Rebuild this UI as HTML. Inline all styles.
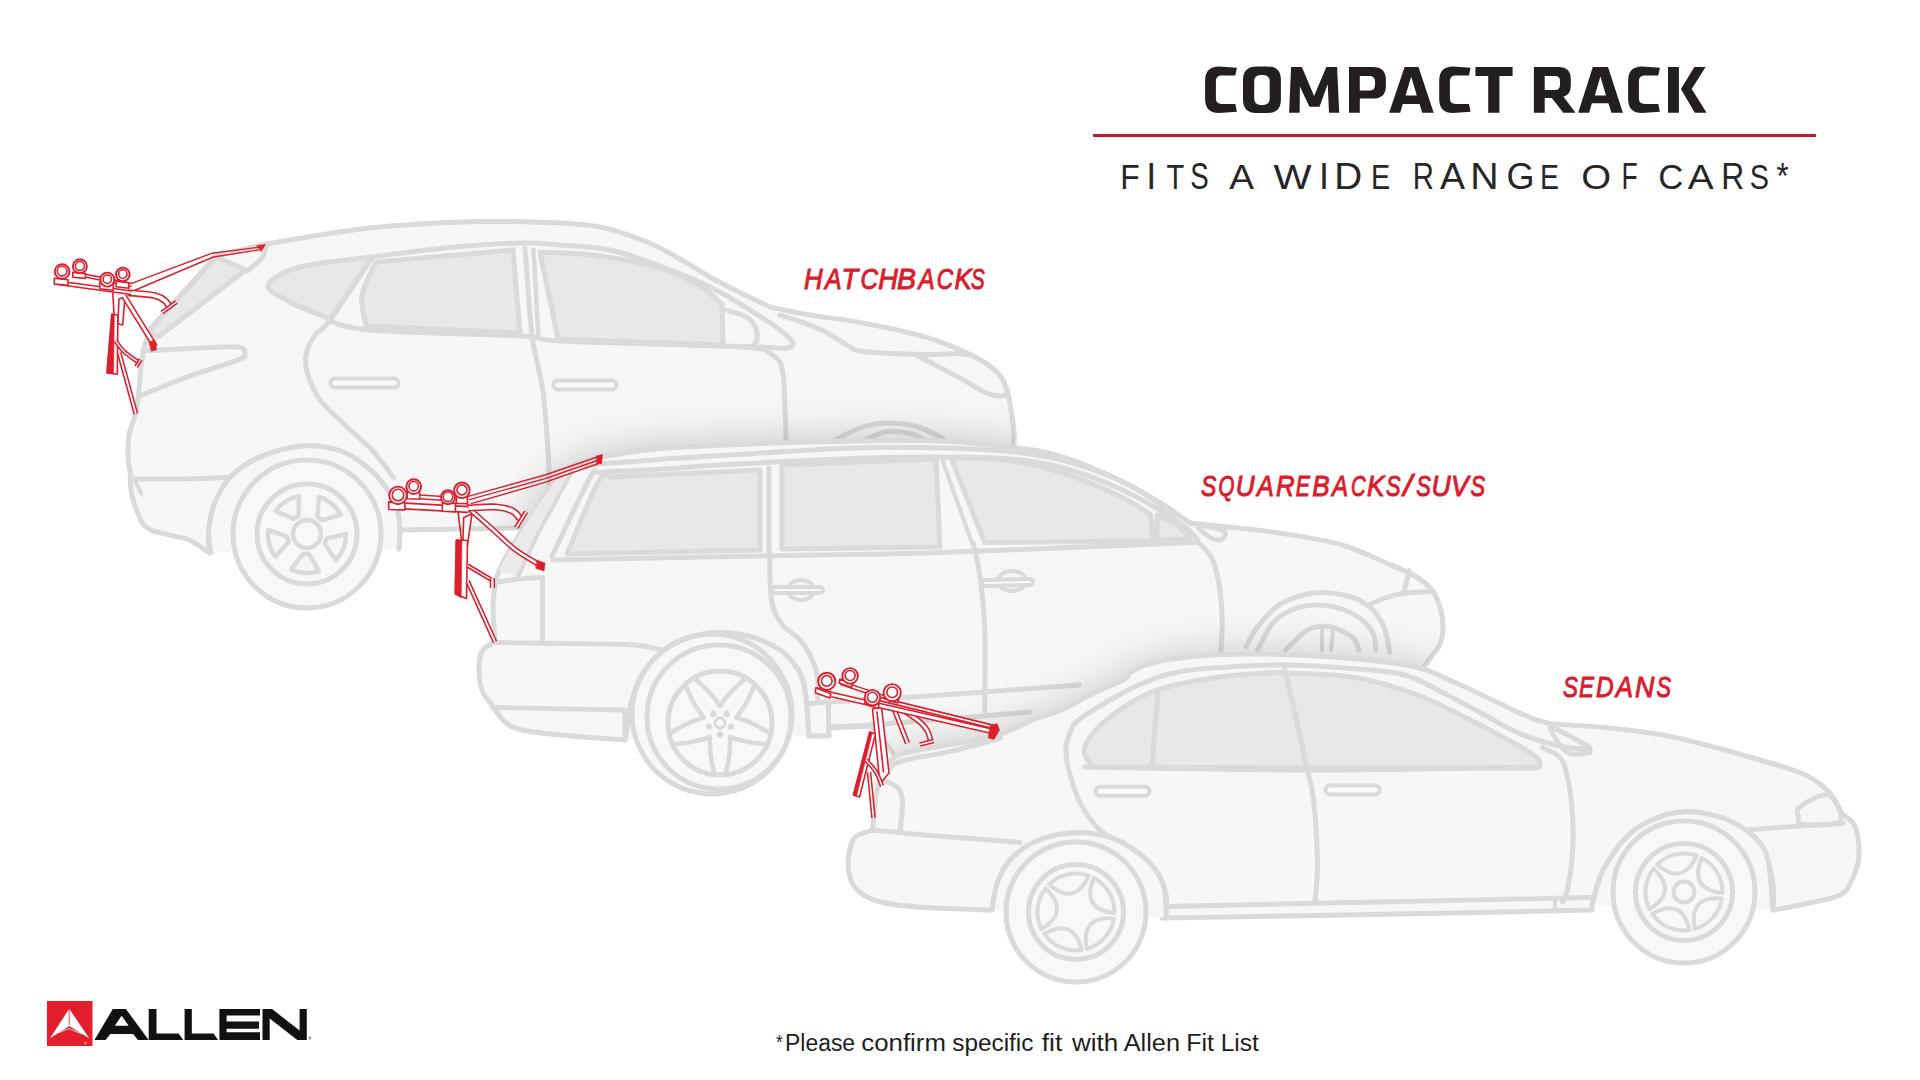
<!DOCTYPE html>
<html><head><meta charset="utf-8"><title>Compact Rack</title>
<style>
html,body{margin:0;padding:0;background:#fff;width:1920px;height:1080px;overflow:hidden}
svg{display:block;position:absolute;left:0;top:0}
text{font-family:"Liberation Sans",sans-serif}
</style></head><body>
<svg width="1920" height="1080" viewBox="0 0 1920 1080">
<defs>
</defs>
<!-- CARS -->
<g id="cars" stroke-linejoin="round" stroke-linecap="round">
<path d="M266.0 244.0 C275.0 242.5 302.7 237.7 320.0 235.0 C337.3 232.3 353.3 229.8 370.0 228.0 C386.7 226.2 401.3 225.1 420.0 224.0 C438.7 222.9 461.2 221.8 482.0 221.5 C502.8 221.2 525.3 221.6 545.0 222.5 C564.7 223.4 583.0 223.8 600.0 227.0 C617.0 230.2 633.7 236.7 647.0 242.0 C660.3 247.3 669.5 253.2 680.0 259.0 C690.5 264.8 700.0 271.4 710.0 277.0 C720.0 282.6 730.0 287.5 740.0 292.5 C750.0 297.5 765.0 304.6 770.0 307.0 C776.7 308.3 794.5 312.3 810.0 315.0 C825.5 317.7 843.7 319.3 863.0 323.0 C882.3 326.7 907.6 331.7 926.0 337.2 C944.4 342.7 961.4 350.3 973.2 356.1 C985.0 361.9 991.3 366.6 996.8 371.9 C1002.3 377.1 1003.8 381.3 1006.2 387.6 C1008.6 393.9 1009.7 402.2 1011.0 409.6 C1012.3 417.0 1013.5 425.3 1014.0 431.7 C1014.5 438.1 1014.2 439.9 1014.0 448.0 C1013.8 456.1 1013.2 474.7 1013.0 480.0 C1010.8 486.7 1002.2 513.3 1000.0 520.0 C900.0 521.7 500.0 528.3 400.0 530.0 C399.8 533.2 399.1 549.2 399.0 549.0 C398.9 548.8 400.0 535.2 399.7 528.5 C399.4 521.8 399.2 515.8 397.0 509.0 C394.8 502.2 391.5 495.0 386.5 488.0 C381.5 481.0 374.6 473.2 367.0 467.0 C359.4 460.8 350.9 454.5 340.7 451.0 C330.5 447.5 318.8 444.9 305.6 445.8 C292.4 446.7 273.9 451.4 261.6 456.4 C249.3 461.4 239.3 468.4 231.7 475.7 C224.1 483.0 219.6 491.6 215.8 500.4 C212.0 509.2 209.9 519.7 208.8 528.5 C207.8 537.3 209.4 548.9 209.5 553.0 C206.3 550.9 197.0 543.4 190.5 540.4 C184.0 537.4 177.1 536.9 170.4 535.1 C163.7 533.3 155.3 532.2 150.4 529.7 C145.5 527.2 144.2 526.3 141.0 520.3 C137.8 514.2 133.3 501.2 131.5 493.4 C129.7 485.6 130.8 479.7 130.2 473.3 C129.6 466.9 128.2 461.4 128.0 455.0 C127.8 448.6 127.7 442.2 129.0 435.0 C130.3 427.8 134.3 419.5 136.0 412.0 C137.7 404.5 138.2 397.7 139.0 390.0 C139.8 382.3 140.0 373.5 141.0 366.0 C142.0 358.5 143.3 351.3 145.0 345.0 C146.7 338.7 150.0 330.8 151.0 328.0 C161.8 316.0 205.2 268.0 216.0 256.0 C224.3 254.0 257.7 246.0 266.0 244.0Z" fill="#f7f7f7" stroke="#dadada" stroke-width="5" />
<path d="M216.0 257.0 L246.0 270.0 L158.0 337.0 L149.0 331.0Z" fill="#e8e8e8" stroke="#dadada" stroke-width="5"/>
<path d="M266.0 246.0 C265.3 248.0 265.2 253.8 262.0 258.0 C258.8 262.2 249.5 268.8 247.0 271.0" fill="none" stroke="#dadada" stroke-width="5"/>
<path d="M143.0 351.0 C152.5 350.5 184.2 348.7 200.0 348.0 C215.8 347.3 230.5 346.2 238.0 347.0 C245.5 347.8 245.0 350.8 245.0 353.0 C245.0 355.2 247.2 356.2 238.0 360.0 C228.8 363.8 206.0 370.2 190.0 376.0 C174.0 381.8 150.0 391.8 142.0 395.0" fill="none" stroke="#dadada" stroke-width="5"/>
<path d="M131.0 479.0 C139.2 479.0 164.2 479.2 180.0 479.0 C195.8 478.8 217.3 478.0 226.0 477.5 C234.7 477.0 231.0 476.2 232.0 476.0" fill="none" stroke="#dadada" stroke-width="5"/>
<path d="M211.0 542.6 L232.0 542.6" fill="none" stroke="#dadada" stroke-width="5"/>
<path d="M134.5 480.0 L141.5 494.0" fill="none" stroke="#dadada" stroke-width="4"/>
<path d="M268.0 285.0 C269.7 279.2 282.7 271.7 300.0 267.0 C317.3 262.3 360.0 258.7 372.0 257.0 C365.0 267.3 337.0 308.7 330.0 319.0 C323.3 316.2 300.3 307.7 290.0 302.0 C279.7 296.3 266.3 290.8 268.0 285.0Z" fill="#e8e8e8" stroke="#dadada" stroke-width="5"/>
<path d="M376.0 262.0 C398.8 260.0 490.2 252.0 513.0 250.0 C514.2 263.8 518.8 319.2 520.0 333.0 C494.3 331.8 391.7 327.2 366.0 326.0 C365.3 320.8 360.3 305.7 362.0 295.0 C363.7 284.3 373.7 267.5 376.0 262.0Z" fill="#e8e8e8" stroke="#dadada" stroke-width="5"/>
<path d="M540.0 252.0 C550.0 252.7 580.0 253.3 600.0 256.0 C620.0 258.7 643.3 263.0 660.0 268.0 C676.7 273.0 689.7 280.0 700.0 286.0 C710.3 292.0 718.3 301.0 722.0 304.0 C722.2 310.8 722.8 338.2 723.0 345.0 C695.5 344.0 585.5 340.0 558.0 339.0 C555.0 324.5 543.0 266.5 540.0 252.0Z" fill="#e8e8e8" stroke="#dadada" stroke-width="5"/>
<path d="M726.0 310.0 C729.7 311.3 742.8 314.2 748.0 318.0 C753.2 321.8 756.3 328.3 757.0 333.0 C757.7 337.7 757.2 343.8 752.0 346.0 C746.8 348.2 730.3 346.0 726.0 346.0" fill="none" stroke="#dadada" stroke-width="5"/>
<path d="M372.0 257.0 C384.2 255.5 420.3 250.3 445.0 248.0 C469.7 245.7 500.8 243.5 520.0 243.0 C539.2 242.5 545.0 243.8 560.0 245.0 C575.0 246.2 593.3 246.5 610.0 250.0 C626.7 253.5 643.3 259.8 660.0 266.0 C676.7 272.2 695.0 279.7 710.0 287.0 C725.0 294.3 738.3 302.8 750.0 310.0 C761.7 317.2 772.8 324.5 780.0 330.0 C787.2 335.5 792.0 340.0 793.0 343.0 C794.0 346.0 791.5 347.3 786.0 348.0 C780.5 348.7 764.3 347.2 760.0 347.0" fill="none" stroke="#dadada" stroke-width="5"/>
<path d="M330.0 321.0 C336.7 322.5 338.3 327.5 370.0 330.0 C401.7 332.5 488.3 334.2 520.0 336.0 C551.7 337.8 526.3 339.3 560.0 341.0 C593.7 342.7 687.8 344.7 722.0 346.0 C756.2 347.3 757.8 348.5 765.0 349.0" fill="none" stroke="#dadada" stroke-width="5"/>
<path d="M372.0 258.0 C365.0 268.3 339.5 307.2 330.0 320.0 C320.5 332.8 319.0 329.2 315.0 335.0 C311.0 340.8 307.2 348.3 306.0 355.0 C304.8 361.7 305.7 367.5 308.0 375.0 C310.3 382.5 313.8 391.7 320.0 400.0 C326.2 408.3 336.3 416.7 345.0 425.0 C353.7 433.3 363.8 441.2 372.0 450.0 C380.2 458.8 390.3 473.3 394.0 478.0" fill="none" stroke="#dadada" stroke-width="5"/>
<path d="M525.0 248.0 C526.2 262.5 529.3 313.0 532.0 335.0 C534.7 357.0 538.8 367.5 541.0 380.0 C543.2 392.5 543.7 395.0 545.0 410.0 C546.3 425.0 548.2 450.8 549.0 470.0 C549.8 489.2 549.8 515.8 550.0 525.0" fill="none" stroke="#dadada" stroke-width="5"/>
<path d="M533.5 250.0 L538.5 338.0" fill="none" stroke="#dadada" stroke-width="4.5"/>
<path d="M765.0 350.0 C767.5 352.0 776.8 356.2 780.0 362.0 C783.2 367.8 783.2 377.0 784.0 385.0 C784.8 393.0 784.7 400.8 785.0 410.0 C785.3 419.2 785.8 425.0 786.0 440.0 C786.2 455.0 786.0 490.0 786.0 500.0" fill="none" stroke="#dadada" stroke-width="5"/>
<path d="M780.0 315.0 C783.3 316.1 792.7 318.8 800.0 321.5 C807.3 324.2 815.7 327.1 823.6 331.0 C831.5 334.9 840.6 341.7 847.2 345.1 C853.8 348.5 849.9 349.8 863.0 351.4 C876.1 353.0 910.3 354.1 926.0 354.5 C941.7 354.9 949.6 353.2 957.4 353.5 C965.2 353.8 970.4 355.6 973.0 356.0" fill="none" stroke="#dadada" stroke-width="5"/>
<path d="M918.0 356.0 C924.6 359.4 945.6 370.3 957.4 376.6 C969.2 382.9 981.0 390.8 988.9 393.9 C996.8 397.0 1001.7 396.0 1004.7 395.5 C1007.7 395.0 1006.6 391.8 1007.0 391.0" fill="none" stroke="#dadada" stroke-width="5"/>
<path d="M835.0 440.0 C839.2 438.0 851.7 430.8 860.0 428.0 C868.3 425.2 875.8 423.3 885.0 423.0 C894.2 422.7 905.3 423.5 915.0 426.0 C924.7 428.5 938.3 436.0 943.0 438.0" fill="none" stroke="#dadada" stroke-width="5"/>
<path d="M855.0 445.0 C860.0 442.8 875.5 433.8 885.0 432.0 C894.5 430.2 904.2 431.8 912.0 434.0 C919.8 436.2 928.7 443.2 932.0 445.0" fill="none" stroke="#dadada" stroke-width="5"/>
<path d="M335.0 383.0 L394.0 383.0" stroke="#dadada" stroke-width="13" fill="none"/>
<path d="M335.0 383.0 L394.0 383.0" stroke="#fafafa" stroke-width="5" fill="none"/>
<path d="M558.0 385.0 L612.0 385.0" stroke="#dadada" stroke-width="13" fill="none"/>
<path d="M558.0 385.0 L612.0 385.0" stroke="#fafafa" stroke-width="5" fill="none"/>
<path d="M210.6 553.0 C210.3 548.9 207.9 537.3 208.8 528.5 C209.7 519.7 212.0 509.2 215.8 500.4 C219.6 491.6 224.1 483.0 231.7 475.7 C239.3 468.4 249.3 461.4 261.6 456.4 C273.9 451.4 292.4 446.7 305.6 445.8 C318.8 444.9 330.5 447.5 340.7 451.0 C350.9 454.5 359.4 460.8 367.0 467.0 C374.6 473.2 381.5 481.0 386.5 488.0 C391.5 495.0 394.8 502.2 397.0 509.0 C399.2 515.8 399.4 521.8 399.7 528.5 C400.0 535.2 399.1 545.6 399.0 549.0 C367.6 549.7 242.0 552.3 210.6 553.0Z" fill="#f7f7f7"/>
<circle cx="307.0" cy="534.0" r="74.0" fill="#f8f8f8" stroke="#dadada" stroke-width="5"/>
<circle cx="307.0" cy="534.0" r="50.0" fill="#f8f8f8" stroke="#dadada" stroke-width="5"/>
<circle cx="307.0" cy="534.0" r="14.0" fill="none" stroke="#dadada" stroke-width="4.5"/>
<path d="M308.9 554.1 L319.1 571.1 A39.0 39.0 0 0 1 291.1 569.6 L303.0 553.8 Z" fill="#f7f7f7" stroke="#dadada" stroke-width="4.5" stroke-linejoin="round"/>
<path d="M288.5 542.1 L275.4 556.9 A39.0 39.0 0 0 1 268.2 529.9 L286.9 536.3 Z" fill="#f7f7f7" stroke="#dadada" stroke-width="4.5" stroke-linejoin="round"/>
<path d="M293.6 518.9 L275.4 511.1 A39.0 39.0 0 0 1 298.9 495.9 L298.6 515.6 Z" fill="#f7f7f7" stroke="#dadada" stroke-width="4.5" stroke-linejoin="round"/>
<path d="M317.3 516.6 L319.1 496.9 A39.0 39.0 0 0 1 340.8 514.5 L321.9 520.3 Z" fill="#f7f7f7" stroke="#dadada" stroke-width="4.5" stroke-linejoin="round"/>
<path d="M326.7 538.4 L346.0 534.0 A39.0 39.0 0 0 1 336.0 560.1 L324.6 544.0 Z" fill="#f7f7f7" stroke="#dadada" stroke-width="4.5" stroke-linejoin="round"/>
<path d="M210.6 553.0 C210.3 548.9 207.9 537.3 208.8 528.5 C209.7 519.7 212.0 509.2 215.8 500.4 C219.6 491.6 224.1 483.0 231.7 475.7 C239.3 468.4 249.3 461.4 261.6 456.4 C273.9 451.4 292.4 446.7 305.6 445.8 C318.8 444.9 330.5 447.5 340.7 451.0 C350.9 454.5 359.4 460.8 367.0 467.0 C374.6 473.2 381.5 481.0 386.5 488.0 C391.5 495.0 394.8 502.2 397.0 509.0 C399.2 515.8 399.4 521.8 399.7 528.5 C400.0 535.2 399.1 545.6 399.0 549.0" fill="none" stroke="#dadada" stroke-width="5"/>
<clipPath id="clipa"><path d="M266.0 244.0 C275.0 242.5 302.7 237.7 320.0 235.0 C337.3 232.3 353.3 229.8 370.0 228.0 C386.7 226.2 401.3 225.1 420.0 224.0 C438.7 222.9 461.2 221.8 482.0 221.5 C502.8 221.2 525.3 221.6 545.0 222.5 C564.7 223.4 583.0 223.8 600.0 227.0 C617.0 230.2 633.7 236.7 647.0 242.0 C660.3 247.3 669.5 253.2 680.0 259.0 C690.5 264.8 700.0 271.4 710.0 277.0 C720.0 282.6 730.0 287.5 740.0 292.5 C750.0 297.5 765.0 304.6 770.0 307.0 C776.7 308.3 794.5 312.3 810.0 315.0 C825.5 317.7 843.7 319.3 863.0 323.0 C882.3 326.7 907.6 331.7 926.0 337.2 C944.4 342.7 961.4 350.3 973.2 356.1 C985.0 361.9 991.3 366.6 996.8 371.9 C1002.3 377.1 1003.8 381.3 1006.2 387.6 C1008.6 393.9 1009.7 402.2 1011.0 409.6 C1012.3 417.0 1013.5 425.3 1014.0 431.7 C1014.5 438.1 1014.2 439.9 1014.0 448.0 C1013.8 456.1 1013.2 474.7 1013.0 480.0 C1010.8 486.7 1002.2 513.3 1000.0 520.0 C900.0 521.7 500.0 528.3 400.0 530.0 C399.8 533.2 399.1 549.2 399.0 549.0 C398.9 548.8 400.0 535.2 399.7 528.5 C399.4 521.8 399.2 515.8 397.0 509.0 C394.8 502.2 391.5 495.0 386.5 488.0 C381.5 481.0 374.6 473.2 367.0 467.0 C359.4 460.8 350.9 454.5 340.7 451.0 C330.5 447.5 318.8 444.9 305.6 445.8 C292.4 446.7 273.9 451.4 261.6 456.4 C249.3 461.4 239.3 468.4 231.7 475.7 C224.1 483.0 219.6 491.6 215.8 500.4 C212.0 509.2 209.9 519.7 208.8 528.5 C207.8 537.3 209.4 548.9 209.5 553.0 C206.3 550.9 197.0 543.4 190.5 540.4 C184.0 537.4 177.1 536.9 170.4 535.1 C163.7 533.3 155.3 532.2 150.4 529.7 C145.5 527.2 144.2 526.3 141.0 520.3 C137.8 514.2 133.3 501.2 131.5 493.4 C129.7 485.6 130.8 479.7 130.2 473.3 C129.6 466.9 128.2 461.4 128.0 455.0 C127.8 448.6 127.7 442.2 129.0 435.0 C130.3 427.8 134.3 419.5 136.0 412.0 C137.7 404.5 138.2 397.7 139.0 390.0 C139.8 382.3 140.0 373.5 141.0 366.0 C142.0 358.5 143.3 351.3 145.0 345.0 C146.7 338.7 150.0 330.8 151.0 328.0 C161.8 316.0 205.2 268.0 216.0 256.0 C224.3 254.0 257.7 246.0 266.0 244.0Z"/></clipPath>
<filter id="blura" x="-20%" y="-20%" width="140%" height="140%"><feGaussianBlur stdDeviation="22"/></filter>
<g clip-path="url(#clipa)"><path d="M600.0 457.0 C610.0 455.6 633.3 450.8 660.0 448.5 C686.7 446.2 726.7 444.8 760.0 443.5 C793.3 442.2 830.0 441.4 860.0 441.0 C890.0 440.6 916.0 440.1 940.0 441.0 C964.0 441.9 986.3 444.6 1004.0 446.5 C1021.7 448.4 1031.8 449.2 1046.0 452.5 C1060.2 455.8 1074.8 460.9 1089.0 466.5 C1103.2 472.1 1118.0 479.0 1131.0 486.0 C1144.0 493.0 1157.2 502.3 1167.0 508.5 C1176.8 514.7 1186.2 520.6 1190.0 523.0 C1196.5 523.7 1213.0 525.2 1229.0 527.0 C1245.0 528.8 1267.2 531.0 1286.0 534.0 C1304.8 537.0 1325.7 540.3 1342.0 545.0 C1358.3 549.7 1371.8 556.8 1384.0 562.0 C1396.2 567.2 1407.0 571.3 1415.0 576.0 C1423.0 580.7 1427.8 584.8 1432.0 590.0 C1436.2 595.2 1438.2 600.8 1440.0 607.0 C1441.8 613.2 1443.0 620.8 1443.0 627.0 C1443.0 633.2 1442.3 638.5 1440.0 644.0 C1437.7 649.5 1435.7 650.7 1429.0 660.0 C1422.3 669.3 1404.8 693.3 1400.0 700.0 C1350.0 710.8 1150.0 754.2 1100.0 765.0 C1066.7 765.0 933.3 765.0 900.0 765.0 C897.5 761.2 889.8 748.5 885.0 742.0 C880.2 735.5 873.3 728.7 871.0 726.0 C864.0 726.3 836.0 727.7 829.0 728.0 C829.0 729.3 829.0 734.7 829.0 736.0 C825.7 736.0 812.3 736.0 809.0 736.0 C808.6 730.7 807.3 712.5 806.5 704.0 C805.7 695.5 805.6 691.0 804.0 685.0 C802.4 679.0 801.0 673.8 797.0 668.0 C793.0 662.2 788.2 655.3 780.0 650.0 C771.8 644.7 759.7 638.8 748.0 636.0 C736.3 633.2 722.7 631.5 710.0 633.0 C697.3 634.5 682.8 638.8 672.0 645.0 C661.2 651.2 651.7 660.8 645.0 670.0 C638.3 679.2 635.3 688.3 632.0 700.0 C628.7 711.7 626.2 733.3 625.0 740.0 C614.2 739.2 577.2 736.7 560.0 735.0 C542.8 733.3 531.2 732.2 522.0 730.0 C512.8 727.8 510.0 726.2 505.0 722.0 C500.0 717.8 495.8 710.3 492.0 705.0 C488.2 699.7 484.2 696.7 482.0 690.0 C479.8 683.3 478.8 671.7 479.0 665.0 C479.2 658.3 480.3 653.8 483.0 650.0 C485.7 646.2 493.0 643.3 495.0 642.0 C494.7 635.8 492.8 615.3 493.0 605.0 C493.2 594.7 495.5 584.2 496.0 580.0 C496.5 578.5 497.5 574.5 499.0 571.0 C500.5 567.5 501.4 565.1 505.0 558.7 C508.6 552.3 515.0 541.4 520.4 532.7 C525.8 524.1 530.9 516.1 537.2 506.8 C543.5 497.5 551.2 484.3 558.0 477.0 C564.8 469.7 571.0 466.3 578.0 463.0 C585.0 459.7 596.3 458.0 600.0 457.0Z" fill="#000" opacity="0.2" filter="url(#blura)" transform="translate(0 -2)"/></g>
<path d="M600.0 457.0 C610.0 455.6 633.3 450.8 660.0 448.5 C686.7 446.2 726.7 444.8 760.0 443.5 C793.3 442.2 830.0 441.4 860.0 441.0 C890.0 440.6 916.0 440.1 940.0 441.0 C964.0 441.9 986.3 444.6 1004.0 446.5 C1021.7 448.4 1031.8 449.2 1046.0 452.5 C1060.2 455.8 1074.8 460.9 1089.0 466.5 C1103.2 472.1 1118.0 479.0 1131.0 486.0 C1144.0 493.0 1157.2 502.3 1167.0 508.5 C1176.8 514.7 1186.2 520.6 1190.0 523.0 C1196.5 523.7 1213.0 525.2 1229.0 527.0 C1245.0 528.8 1267.2 531.0 1286.0 534.0 C1304.8 537.0 1325.7 540.3 1342.0 545.0 C1358.3 549.7 1371.8 556.8 1384.0 562.0 C1396.2 567.2 1407.0 571.3 1415.0 576.0 C1423.0 580.7 1427.8 584.8 1432.0 590.0 C1436.2 595.2 1438.2 600.8 1440.0 607.0 C1441.8 613.2 1443.0 620.8 1443.0 627.0 C1443.0 633.2 1442.3 638.5 1440.0 644.0 C1437.7 649.5 1435.7 650.7 1429.0 660.0 C1422.3 669.3 1404.8 693.3 1400.0 700.0 C1350.0 710.8 1150.0 754.2 1100.0 765.0 C1066.7 765.0 933.3 765.0 900.0 765.0 C897.5 761.2 889.8 748.5 885.0 742.0 C880.2 735.5 873.3 728.7 871.0 726.0 C864.0 726.3 836.0 727.7 829.0 728.0 C829.0 729.3 829.0 734.7 829.0 736.0 C825.7 736.0 812.3 736.0 809.0 736.0 C808.6 730.7 807.3 712.5 806.5 704.0 C805.7 695.5 805.6 691.0 804.0 685.0 C802.4 679.0 801.0 673.8 797.0 668.0 C793.0 662.2 788.2 655.3 780.0 650.0 C771.8 644.7 759.7 638.8 748.0 636.0 C736.3 633.2 722.7 631.5 710.0 633.0 C697.3 634.5 682.8 638.8 672.0 645.0 C661.2 651.2 651.7 660.8 645.0 670.0 C638.3 679.2 635.3 688.3 632.0 700.0 C628.7 711.7 626.2 733.3 625.0 740.0 C614.2 739.2 577.2 736.7 560.0 735.0 C542.8 733.3 531.2 732.2 522.0 730.0 C512.8 727.8 510.0 726.2 505.0 722.0 C500.0 717.8 495.8 710.3 492.0 705.0 C488.2 699.7 484.2 696.7 482.0 690.0 C479.8 683.3 478.8 671.7 479.0 665.0 C479.2 658.3 480.3 653.8 483.0 650.0 C485.7 646.2 493.0 643.3 495.0 642.0 C494.7 635.8 492.8 615.3 493.0 605.0 C493.2 594.7 495.5 584.2 496.0 580.0 C496.5 578.5 497.5 574.5 499.0 571.0 C500.5 567.5 501.4 565.1 505.0 558.7 C508.6 552.3 515.0 541.4 520.4 532.7 C525.8 524.1 530.9 516.1 537.2 506.8 C543.5 497.5 551.2 484.3 558.0 477.0 C564.8 469.7 571.0 466.3 578.0 463.0 C585.0 459.7 596.3 458.0 600.0 457.0Z" fill="#f7f7f7" stroke="#dadada" stroke-width="5" />
<path d="M558.0 477.0 L537.2 506.8 L520.4 532.7 L504.8 558.7 L498.4 571.6 L517.8 575.5 L521.7 569.0 L537.2 535.3 L552.8 506.8 L568.3 478.3Z" fill="#ebebeb"/>
<path d="M572.0 472.0 C571.4 473.1 571.5 472.5 568.3 478.3 C565.1 484.1 558.0 497.3 552.8 506.8 C547.6 516.3 542.4 524.9 537.2 535.3 C532.0 545.7 524.9 562.2 521.7 569.0 C518.5 575.8 518.4 574.8 517.8 576.0" fill="none" stroke="#dadada" stroke-width="4"/>
<path d="M497.0 582.0 C500.8 581.5 512.4 579.8 520.0 579.0 C527.6 578.2 538.8 577.8 542.5 577.5 C542.5 582.9 542.5 599.1 542.5 610.0 C542.5 620.9 542.5 637.5 542.5 643.0" fill="none" stroke="#dadada" stroke-width="5"/>
<path d="M567.0 554.0 C572.2 542.0 590.8 494.8 598.0 482.0 C605.2 469.2 608.0 477.8 610.0 477.0 C635.0 475.8 735.0 471.2 760.0 470.0 C760.0 483.3 760.0 536.7 760.0 550.0 C727.8 550.7 599.2 553.3 567.0 554.0Z" fill="#e8e8e8" stroke="#dadada" stroke-width="5"/>
<path d="M782.0 465.0 L936.0 459.0 L940.0 547.0 L782.0 549.0Z" fill="#e8e8e8" stroke="#dadada" stroke-width="5"/>
<path d="M951.0 458.0 C960.0 458.3 986.8 457.7 1005.0 460.0 C1023.2 462.3 1041.3 466.2 1060.0 472.0 C1078.7 477.8 1101.9 487.6 1117.0 494.7 C1132.1 501.8 1145.0 511.1 1150.6 514.4 C1151.1 518.8 1152.9 536.6 1153.4 541.0 C1125.3 541.2 1012.8 542.2 984.7 542.5 C979.1 528.4 956.6 472.1 951.0 458.0Z" fill="#e8e8e8" stroke="#dadada" stroke-width="5"/>
<path d="M1157.0 515.0 C1160.2 516.5 1170.3 520.0 1176.0 524.0 C1181.7 528.0 1188.5 536.5 1191.0 539.0 C1185.3 539.2 1162.7 539.8 1157.0 540.0 C1157.0 535.8 1157.0 519.2 1157.0 515.0Z" fill="#e8e8e8" stroke="#dadada" stroke-width="5"/>
<path d="M578.0 465.5 C588.3 464.8 623.8 462.2 640.0 461.0 C656.2 459.8 661.7 459.2 675.0 458.3 C688.3 457.4 692.5 457.2 720.0 455.6 C747.5 454.0 806.7 449.9 840.0 448.5 C873.3 447.1 892.7 447.1 920.0 447.5 C947.3 447.9 980.7 449.0 1004.0 451.0 C1027.3 453.0 1041.2 454.8 1060.0 459.5 C1078.8 464.2 1100.5 471.9 1117.0 479.0 C1133.5 486.1 1146.8 494.7 1159.0 502.0 C1171.2 509.3 1184.8 519.5 1190.0 523.0" fill="none" stroke="#dadada" stroke-width="5"/>
<path d="M552.0 556.0 C558.3 543.0 582.0 491.9 590.0 478.0 C598.0 464.1 591.7 473.8 600.0 472.5 C608.3 471.2 627.5 471.2 640.0 470.5 C652.5 469.8 661.7 469.2 675.0 468.3 C688.3 467.4 692.5 466.6 720.0 465.0 C747.5 463.4 806.7 460.3 840.0 459.0 C873.3 457.7 892.7 457.1 920.0 457.0 C947.3 456.9 980.7 456.8 1004.0 458.5 C1027.3 460.2 1041.2 462.2 1060.0 467.0 C1078.8 471.8 1100.5 480.4 1117.0 487.5 C1133.5 494.6 1147.3 502.7 1159.0 509.5 C1170.7 516.3 1180.5 523.4 1187.0 528.5 C1193.5 533.6 1196.2 538.1 1198.0 540.0" fill="none" stroke="#dadada" stroke-width="5"/>
<path d="M552.5 560.0 C587.1 559.3 695.4 557.2 760.0 556.0 C824.6 554.8 867.5 554.8 940.0 552.5 C1012.5 550.2 1152.5 544.2 1195.0 542.5" fill="none" stroke="#dadada" stroke-width="5"/>
<path d="M769.0 468.0 L769.0 553.0" fill="none" stroke="#dadada" stroke-width="5"/>
<path d="M942.0 459.0 L972.0 543.0" fill="none" stroke="#dadada" stroke-width="4"/>
<path d="M770.0 552.5 C770.0 557.1 769.6 571.2 770.0 580.0 C770.4 588.8 770.4 597.5 772.5 605.0 C774.6 612.5 777.9 619.2 782.5 625.0 C787.1 630.8 795.0 634.2 800.0 640.0 C805.0 645.8 809.6 653.8 812.5 660.0 C815.4 666.2 816.6 670.8 817.5 677.5 C818.4 684.2 817.9 696.2 818.0 700.0" fill="none" stroke="#dadada" stroke-width="5"/>
<path d="M973.0 542.5 C974.0 547.2 977.0 556.5 979.0 570.6 C981.0 584.7 983.8 603.5 984.7 626.9 C985.7 650.3 984.7 697.0 984.7 711.0" fill="none" stroke="#dadada" stroke-width="5"/>
<path d="M1198.4 542.5 C1200.8 545.3 1209.0 551.9 1212.5 559.4 C1216.0 566.9 1217.9 577.2 1219.5 587.5 C1221.1 597.8 1222.0 610.8 1222.3 621.2 C1222.5 631.7 1221.2 645.2 1221.0 650.0" fill="none" stroke="#dadada" stroke-width="5"/>
<path d="M1198.0 525.6 C1200.3 524.6 1219.9 528.9 1223.8 531.2 C1227.6 533.6 1223.3 538.7 1221.0 539.7 C1218.7 540.7 1213.5 539.4 1209.7 537.0 C1205.9 534.6 1195.7 526.6 1198.0 525.6Z" fill="none" stroke="#dadada" stroke-width="5"/>
<path d="M1409.4 570.6 C1408.5 574.3 1404.7 589.3 1403.8 593.0 C1408.0 592.8 1424.8 591.9 1429.0 591.7" fill="none" stroke="#dadada" stroke-width="5"/>
<path d="M1403.8 593.0 C1400.6 593.8 1390.6 596.1 1385.0 598.0 C1379.4 599.9 1372.5 603.3 1370.0 604.4" fill="none" stroke="#dadada" stroke-width="5"/>
<path d="M1246.0 646.6 C1247.9 643.3 1251.8 633.9 1257.5 626.9 C1263.2 619.9 1270.6 610.0 1280.0 604.4 C1289.4 598.8 1302.5 594.4 1313.8 593.0 C1325.0 591.6 1338.1 593.6 1347.5 596.0 C1356.9 598.4 1363.9 602.1 1370.0 607.2 C1376.1 612.4 1380.7 619.4 1384.0 626.9 C1387.3 634.4 1388.8 648.0 1389.7 652.2" fill="none" stroke="#dadada" stroke-width="5"/>
<path d="M1257.5 650.0 C1260.3 645.2 1267.4 628.4 1274.4 621.2 C1281.4 614.1 1290.8 609.8 1299.7 607.2 C1308.6 604.6 1318.4 604.4 1327.8 605.8 C1337.2 607.2 1348.5 611.1 1356.0 615.6 C1363.5 620.1 1369.5 626.8 1372.8 632.5 C1376.1 638.2 1375.1 647.1 1375.6 650.0" fill="none" stroke="#dadada" stroke-width="5"/>
<path d="M1285.6 650.0 C1289.3 646.6 1300.5 633.6 1308.0 629.7 C1315.5 625.9 1323.1 625.5 1330.6 626.9 C1338.1 628.3 1348.3 634.1 1353.0 638.0 C1357.7 641.9 1357.8 648.0 1358.8 650.0" fill="none" stroke="#dadada" stroke-width="5"/>
<path d="M1322.0 630.0 L1322.0 650.0" fill="none" stroke="#dadada" stroke-width="4"/>
<path d="M1333.0 630.0 L1331.0 650.0" fill="none" stroke="#dadada" stroke-width="4"/>
<path d="M495.0 642.5 C510.0 642.7 561.7 643.3 585.0 643.8 C608.3 644.2 622.1 644.0 635.0 645.0 C647.9 646.0 657.9 649.2 662.5 650.0" fill="none" stroke="#dadada" stroke-width="5"/>
<path d="M492.5 707.5 C503.8 707.7 537.9 708.3 560.0 708.8 C582.1 709.2 614.2 709.8 625.0 710.0" fill="none" stroke="#dadada" stroke-width="5"/>
<path d="M625.0 710.0 L625.0 740.0" fill="none" stroke="#dadada" stroke-width="5"/>
<path d="M806.0 704.0 C810.0 703.7 813.5 703.1 830.0 702.0 C846.5 700.9 878.3 699.2 905.0 697.5 C931.7 695.8 961.0 693.6 990.0 691.5 C1019.0 689.4 1064.2 686.1 1079.0 685.0" fill="none" stroke="#dadada" stroke-width="5"/>
<path d="M828.5 703.0 L828.5 733.0" fill="none" stroke="#dadada" stroke-width="5"/>
<path d="M829.6 727.0 C836.5 726.6 844.5 726.7 871.2 724.8 C898.0 722.9 963.5 717.5 990.0 715.4 C1016.5 713.3 1023.3 712.6 1030.0 712.0" fill="none" stroke="#dadada" stroke-width="5"/>
<ellipse cx="801.0" cy="590.0" rx="13.0" ry="10.0" fill="#f7f7f7" stroke="#dadada" stroke-width="4"/>
<path d="M775.0 590.0 L820.0 590.0" stroke="#dadada" stroke-width="10" fill="none"/>
<path d="M775.0 590.0 L820.0 590.0" stroke="#fafafa" stroke-width="2" fill="none"/>
<ellipse cx="1012.0" cy="581.0" rx="14.0" ry="10.0" fill="#f7f7f7" stroke="#dadada" stroke-width="4"/>
<path d="M985.0 583.0 L1030.0 582.0" stroke="#dadada" stroke-width="10" fill="none"/>
<path d="M985.0 583.0 L1030.0 582.0" stroke="#fafafa" stroke-width="2" fill="none"/>
<path d="M625.0 740.0 C626.2 733.3 628.7 711.7 632.0 700.0 C635.3 688.3 638.3 679.2 645.0 670.0 C651.7 660.8 661.2 651.2 672.0 645.0 C682.8 638.8 697.3 634.5 710.0 633.0 C722.7 631.5 736.3 633.2 748.0 636.0 C759.7 638.8 771.8 644.7 780.0 650.0 C788.2 655.3 793.0 662.2 797.0 668.0 C801.0 673.8 802.4 679.0 804.0 685.0 C805.6 691.0 805.7 695.5 806.5 704.0 C807.3 712.5 808.6 730.7 809.0 736.0 C778.3 736.7 655.7 739.3 625.0 740.0Z" fill="#f7f7f7"/>
<circle cx="712" cy="714" r="80" fill="#f8f8f8" stroke="#dadada" stroke-width="5"/>
<circle cx="719" cy="717" r="72" fill="#f8f8f8" stroke="#dadada" stroke-width="5"/>
<circle cx="720" cy="723" r="52" fill="#f8f8f8" stroke="#dadada" stroke-width="5"/>
<path d="M694.0 678.0 Q710.7 691.6 720.0 706.0 Q729.3 691.6 746.0 678.0" fill="none" stroke="#dadada" stroke-width="4.5"/>
<path d="M754.8 684.4 Q747.0 704.5 736.2 717.7 Q752.7 722.1 770.9 733.8" fill="none" stroke="#dadada" stroke-width="4.5"/>
<path d="M767.5 744.2 Q746.0 742.9 730.0 736.8 Q730.9 753.9 725.4 774.7" fill="none" stroke="#dadada" stroke-width="4.5"/>
<path d="M714.6 774.7 Q709.1 753.9 710.0 736.8 Q694.0 742.9 672.5 744.2" fill="none" stroke="#dadada" stroke-width="4.5"/>
<path d="M669.1 733.8 Q687.3 722.1 703.8 717.7 Q693.0 704.5 685.2 684.4" fill="none" stroke="#dadada" stroke-width="4.5"/>
<circle cx="726.8" cy="713.7" r="3.2" fill="#dadada"/>
<circle cx="730.9" cy="726.6" r="3.2" fill="#dadada"/>
<circle cx="720.0" cy="734.5" r="3.2" fill="#dadada"/>
<circle cx="709.1" cy="726.6" r="3.2" fill="#dadada"/>
<circle cx="713.2" cy="713.7" r="3.2" fill="#dadada"/>
<circle cx="720" cy="723" r="5" fill="none" stroke="#dadada" stroke-width="3"/>
<path d="M625.0 740.0 C626.2 733.3 628.7 711.7 632.0 700.0 C635.3 688.3 638.3 679.2 645.0 670.0 C651.7 660.8 661.2 651.2 672.0 645.0 C682.8 638.8 697.3 634.5 710.0 633.0 C722.7 631.5 736.3 633.2 748.0 636.0 C759.7 638.8 771.8 644.7 780.0 650.0 C788.2 655.3 793.0 662.2 797.0 668.0 C801.0 673.8 802.4 679.0 804.0 685.0 C805.6 691.0 805.7 695.5 806.5 704.0 C807.3 712.5 808.6 730.7 809.0 736.0" fill="none" stroke="#dadada" stroke-width="5"/>
<clipPath id="clipb"><path d="M600.0 457.0 C610.0 455.6 633.3 450.8 660.0 448.5 C686.7 446.2 726.7 444.8 760.0 443.5 C793.3 442.2 830.0 441.4 860.0 441.0 C890.0 440.6 916.0 440.1 940.0 441.0 C964.0 441.9 986.3 444.6 1004.0 446.5 C1021.7 448.4 1031.8 449.2 1046.0 452.5 C1060.2 455.8 1074.8 460.9 1089.0 466.5 C1103.2 472.1 1118.0 479.0 1131.0 486.0 C1144.0 493.0 1157.2 502.3 1167.0 508.5 C1176.8 514.7 1186.2 520.6 1190.0 523.0 C1196.5 523.7 1213.0 525.2 1229.0 527.0 C1245.0 528.8 1267.2 531.0 1286.0 534.0 C1304.8 537.0 1325.7 540.3 1342.0 545.0 C1358.3 549.7 1371.8 556.8 1384.0 562.0 C1396.2 567.2 1407.0 571.3 1415.0 576.0 C1423.0 580.7 1427.8 584.8 1432.0 590.0 C1436.2 595.2 1438.2 600.8 1440.0 607.0 C1441.8 613.2 1443.0 620.8 1443.0 627.0 C1443.0 633.2 1442.3 638.5 1440.0 644.0 C1437.7 649.5 1435.7 650.7 1429.0 660.0 C1422.3 669.3 1404.8 693.3 1400.0 700.0 C1350.0 710.8 1150.0 754.2 1100.0 765.0 C1066.7 765.0 933.3 765.0 900.0 765.0 C897.5 761.2 889.8 748.5 885.0 742.0 C880.2 735.5 873.3 728.7 871.0 726.0 C864.0 726.3 836.0 727.7 829.0 728.0 C829.0 729.3 829.0 734.7 829.0 736.0 C825.7 736.0 812.3 736.0 809.0 736.0 C808.6 730.7 807.3 712.5 806.5 704.0 C805.7 695.5 805.6 691.0 804.0 685.0 C802.4 679.0 801.0 673.8 797.0 668.0 C793.0 662.2 788.2 655.3 780.0 650.0 C771.8 644.7 759.7 638.8 748.0 636.0 C736.3 633.2 722.7 631.5 710.0 633.0 C697.3 634.5 682.8 638.8 672.0 645.0 C661.2 651.2 651.7 660.8 645.0 670.0 C638.3 679.2 635.3 688.3 632.0 700.0 C628.7 711.7 626.2 733.3 625.0 740.0 C614.2 739.2 577.2 736.7 560.0 735.0 C542.8 733.3 531.2 732.2 522.0 730.0 C512.8 727.8 510.0 726.2 505.0 722.0 C500.0 717.8 495.8 710.3 492.0 705.0 C488.2 699.7 484.2 696.7 482.0 690.0 C479.8 683.3 478.8 671.7 479.0 665.0 C479.2 658.3 480.3 653.8 483.0 650.0 C485.7 646.2 493.0 643.3 495.0 642.0 C494.7 635.8 492.8 615.3 493.0 605.0 C493.2 594.7 495.5 584.2 496.0 580.0 C496.5 578.5 497.5 574.5 499.0 571.0 C500.5 567.5 501.4 565.1 505.0 558.7 C508.6 552.3 515.0 541.4 520.4 532.7 C525.8 524.1 530.9 516.1 537.2 506.8 C543.5 497.5 551.2 484.3 558.0 477.0 C564.8 469.7 571.0 466.3 578.0 463.0 C585.0 459.7 596.3 458.0 600.0 457.0Z"/></clipPath>
<filter id="blurb" x="-20%" y="-20%" width="140%" height="140%"><feGaussianBlur stdDeviation="22"/></filter>
<g clip-path="url(#clipb)"><path d="M880.0 780.0 C880.7 778.0 882.2 771.3 884.0 768.0 C885.8 764.7 887.5 762.5 891.0 760.0 C894.5 757.5 894.7 755.7 905.0 753.0 C915.3 750.3 937.8 746.8 953.0 744.0 C968.2 741.2 982.2 740.2 996.0 736.0 C1009.8 731.8 1025.3 722.7 1036.0 718.5 C1046.7 714.3 1050.5 715.0 1060.0 710.8 C1069.5 706.6 1082.6 698.5 1093.3 693.3 C1104.0 688.1 1117.9 682.9 1124.0 679.5 C1130.1 676.1 1126.8 675.2 1130.0 673.0 C1133.2 670.8 1136.7 668.2 1143.0 666.0 C1149.3 663.8 1155.2 661.4 1168.0 659.5 C1180.8 657.6 1201.3 655.3 1220.0 654.5 C1238.7 653.7 1257.5 653.8 1280.0 654.5 C1302.5 655.2 1332.1 656.6 1355.0 658.8 C1377.9 660.9 1400.8 663.5 1417.5 667.5 C1434.2 671.5 1442.5 677.1 1455.0 682.5 C1467.5 687.9 1480.0 694.2 1492.5 700.0 C1505.0 705.8 1520.4 713.5 1530.0 717.5 C1539.6 721.5 1546.7 722.7 1550.0 723.8 C1559.2 724.4 1587.5 725.8 1605.0 727.5 C1622.5 729.2 1640.3 731.4 1655.0 733.8 C1669.7 736.1 1675.5 737.3 1693.0 741.7 C1710.5 746.1 1741.9 754.7 1760.0 760.0 C1778.1 765.3 1791.2 768.8 1801.7 773.3 C1812.2 777.8 1817.8 782.2 1823.3 786.7 C1828.8 791.2 1831.9 795.6 1835.0 800.0 C1838.1 804.4 1838.7 809.4 1841.7 813.3 C1844.8 817.2 1850.5 818.8 1853.3 823.3 C1856.1 827.8 1857.5 833.6 1858.3 840.0 C1859.1 846.4 1859.4 855.0 1858.3 861.7 C1857.2 868.4 1854.8 874.5 1851.7 880.0 C1848.7 885.5 1848.6 890.8 1840.0 895.0 C1831.4 899.2 1811.2 902.5 1800.0 905.0 C1788.8 907.5 1777.5 909.2 1773.0 910.0 C1773.0 906.1 1774.1 894.8 1773.3 886.7 C1772.5 878.7 1770.5 868.9 1768.3 861.7 C1766.1 854.5 1764.2 848.9 1760.0 843.3 C1755.8 837.7 1750.2 832.7 1743.3 828.3 C1736.3 823.9 1728.0 819.5 1718.3 816.7 C1708.6 813.9 1696.1 811.2 1685.0 811.7 C1673.9 812.2 1661.4 815.8 1651.7 820.0 C1642.0 824.2 1634.8 828.4 1626.7 836.7 C1618.6 845.0 1608.9 859.5 1603.3 870.0 C1597.7 880.5 1595.2 893.3 1593.3 900.0 C1591.4 906.7 1592.2 908.3 1592.0 910.0 C1560.0 910.7 1471.7 912.7 1400.0 914.0 C1328.3 915.3 1201.7 917.3 1162.0 918.0 C1162.8 915.5 1166.5 908.8 1166.7 903.3 C1166.9 897.8 1165.8 891.4 1163.3 885.0 C1160.8 878.6 1157.8 871.7 1151.7 865.0 C1145.6 858.3 1135.0 850.0 1126.7 845.0 C1118.4 840.0 1111.4 837.0 1101.7 835.0 C1092.0 833.0 1079.4 832.2 1068.3 833.3 C1057.2 834.4 1044.7 837.2 1035.0 841.7 C1025.3 846.2 1016.4 852.8 1010.0 860.0 C1003.6 867.2 999.7 876.7 996.7 885.0 C993.7 893.3 992.8 905.8 992.0 910.0 C980.8 909.6 943.2 908.8 925.0 907.5 C906.8 906.2 893.3 905.0 882.5 902.5 C871.7 900.0 865.4 896.7 860.0 892.5 C854.6 888.3 851.9 883.8 850.0 877.5 C848.1 871.2 847.9 861.7 848.8 855.0 C849.6 848.3 851.0 841.7 855.0 837.5 C859.0 833.3 869.6 831.2 872.5 830.0 C872.8 827.5 873.4 820.8 874.0 815.0 C874.6 809.2 875.0 800.8 876.0 795.0 C877.0 789.2 879.3 782.5 880.0 780.0Z" fill="#000" opacity="0.18" filter="url(#blurb)" transform="translate(0 -2)"/></g>
<path d="M880.0 780.0 C880.7 778.0 882.2 771.3 884.0 768.0 C885.8 764.7 887.5 762.5 891.0 760.0 C894.5 757.5 894.7 755.7 905.0 753.0 C915.3 750.3 937.8 746.8 953.0 744.0 C968.2 741.2 982.2 740.2 996.0 736.0 C1009.8 731.8 1025.3 722.7 1036.0 718.5 C1046.7 714.3 1050.5 715.0 1060.0 710.8 C1069.5 706.6 1082.6 698.5 1093.3 693.3 C1104.0 688.1 1117.9 682.9 1124.0 679.5 C1130.1 676.1 1126.8 675.2 1130.0 673.0 C1133.2 670.8 1136.7 668.2 1143.0 666.0 C1149.3 663.8 1155.2 661.4 1168.0 659.5 C1180.8 657.6 1201.3 655.3 1220.0 654.5 C1238.7 653.7 1257.5 653.8 1280.0 654.5 C1302.5 655.2 1332.1 656.6 1355.0 658.8 C1377.9 660.9 1400.8 663.5 1417.5 667.5 C1434.2 671.5 1442.5 677.1 1455.0 682.5 C1467.5 687.9 1480.0 694.2 1492.5 700.0 C1505.0 705.8 1520.4 713.5 1530.0 717.5 C1539.6 721.5 1546.7 722.7 1550.0 723.8 C1559.2 724.4 1587.5 725.8 1605.0 727.5 C1622.5 729.2 1640.3 731.4 1655.0 733.8 C1669.7 736.1 1675.5 737.3 1693.0 741.7 C1710.5 746.1 1741.9 754.7 1760.0 760.0 C1778.1 765.3 1791.2 768.8 1801.7 773.3 C1812.2 777.8 1817.8 782.2 1823.3 786.7 C1828.8 791.2 1831.9 795.6 1835.0 800.0 C1838.1 804.4 1838.7 809.4 1841.7 813.3 C1844.8 817.2 1850.5 818.8 1853.3 823.3 C1856.1 827.8 1857.5 833.6 1858.3 840.0 C1859.1 846.4 1859.4 855.0 1858.3 861.7 C1857.2 868.4 1854.8 874.5 1851.7 880.0 C1848.7 885.5 1848.6 890.8 1840.0 895.0 C1831.4 899.2 1811.2 902.5 1800.0 905.0 C1788.8 907.5 1777.5 909.2 1773.0 910.0 C1773.0 906.1 1774.1 894.8 1773.3 886.7 C1772.5 878.7 1770.5 868.9 1768.3 861.7 C1766.1 854.5 1764.2 848.9 1760.0 843.3 C1755.8 837.7 1750.2 832.7 1743.3 828.3 C1736.3 823.9 1728.0 819.5 1718.3 816.7 C1708.6 813.9 1696.1 811.2 1685.0 811.7 C1673.9 812.2 1661.4 815.8 1651.7 820.0 C1642.0 824.2 1634.8 828.4 1626.7 836.7 C1618.6 845.0 1608.9 859.5 1603.3 870.0 C1597.7 880.5 1595.2 893.3 1593.3 900.0 C1591.4 906.7 1592.2 908.3 1592.0 910.0 C1560.0 910.7 1471.7 912.7 1400.0 914.0 C1328.3 915.3 1201.7 917.3 1162.0 918.0 C1162.8 915.5 1166.5 908.8 1166.7 903.3 C1166.9 897.8 1165.8 891.4 1163.3 885.0 C1160.8 878.6 1157.8 871.7 1151.7 865.0 C1145.6 858.3 1135.0 850.0 1126.7 845.0 C1118.4 840.0 1111.4 837.0 1101.7 835.0 C1092.0 833.0 1079.4 832.2 1068.3 833.3 C1057.2 834.4 1044.7 837.2 1035.0 841.7 C1025.3 846.2 1016.4 852.8 1010.0 860.0 C1003.6 867.2 999.7 876.7 996.7 885.0 C993.7 893.3 992.8 905.8 992.0 910.0 C980.8 909.6 943.2 908.8 925.0 907.5 C906.8 906.2 893.3 905.0 882.5 902.5 C871.7 900.0 865.4 896.7 860.0 892.5 C854.6 888.3 851.9 883.8 850.0 877.5 C848.1 871.2 847.9 861.7 848.8 855.0 C849.6 848.3 851.0 841.7 855.0 837.5 C859.0 833.3 869.6 831.2 872.5 830.0 C872.8 827.5 873.4 820.8 874.0 815.0 C874.6 809.2 875.0 800.8 876.0 795.0 C877.0 789.2 879.3 782.5 880.0 780.0Z" fill="#f7f7f7" stroke="#dadada" stroke-width="5" />
<path d="M1000.6 738.0 C992.8 740.1 968.9 747.1 953.8 750.6 C938.6 754.1 919.9 756.8 910.0 759.0 C900.1 761.2 898.4 761.8 894.4 764.0 C890.4 766.2 887.4 770.7 886.0 772.0" fill="none" stroke="#dadada" stroke-width="5"/>
<path d="M880.0 779.0 C882.9 780.4 893.8 784.0 897.5 787.5 C901.2 791.0 901.9 794.6 902.5 800.0 C903.1 805.4 901.7 814.6 901.2 820.0 C900.8 825.4 900.2 830.4 900.0 832.5" fill="none" stroke="#dadada" stroke-width="5"/>
<path d="M872.5 830.0 C881.2 830.8 907.9 833.5 925.0 835.0 C942.1 836.5 959.2 837.5 975.0 838.8 C990.8 840.0 1012.5 841.9 1020.0 842.5" fill="none" stroke="#dadada" stroke-width="5"/>
<path d="M1084.0 752.0 C1084.0 746.3 1087.3 739.8 1093.0 733.0 C1098.7 726.2 1107.3 718.2 1118.0 711.0 C1128.7 703.8 1140.0 695.7 1157.0 690.0 C1174.0 684.3 1198.5 680.0 1220.0 677.0 C1241.5 674.0 1275.0 672.8 1286.0 672.0 C1289.5 688.0 1303.5 752.0 1307.0 768.0 C1271.3 767.8 1128.7 767.2 1093.0 767.0 C1091.5 764.5 1084.0 757.7 1084.0 752.0Z" fill="#e8e8e8" stroke="#dadada" stroke-width="5"/>
<path d="M1158.0 691.0 L1152.0 766.0" fill="none" stroke="#dadada" stroke-width="5"/>
<path d="M1286.0 673.0 C1297.5 673.8 1333.1 673.8 1355.0 677.5 C1376.9 681.2 1396.7 687.1 1417.5 695.0 C1438.3 702.9 1461.2 715.4 1480.0 725.0 C1498.8 734.6 1520.0 746.2 1530.0 752.5 C1540.0 758.8 1538.8 759.9 1540.0 762.5 C1541.2 765.1 1537.5 767.1 1537.0 768.0 C1498.7 768.0 1345.3 768.0 1307.0 768.0 C1303.5 752.2 1289.5 688.8 1286.0 673.0Z" fill="#e8e8e8" stroke="#dadada" stroke-width="5"/>
<path d="M1066.0 745.0 C1067.0 742.2 1069.5 732.5 1072.0 728.0 C1074.5 723.5 1074.5 723.0 1080.8 718.3 C1087.1 713.6 1101.0 705.3 1110.0 700.0 C1119.0 694.7 1126.7 690.6 1135.0 686.7 C1143.3 682.8 1151.7 679.4 1160.0 676.7 C1168.3 674.1 1175.0 672.3 1185.0 670.8 C1195.0 669.3 1203.7 668.5 1220.0 667.5 C1236.3 666.5 1260.5 664.8 1283.0 665.0 C1305.5 665.2 1334.7 667.1 1355.0 668.8 C1375.3 670.4 1390.4 671.0 1405.0 675.0 C1419.6 679.0 1430.0 686.2 1442.5 692.5 C1455.0 698.8 1467.5 705.8 1480.0 712.5 C1492.5 719.2 1505.0 727.1 1517.5 732.5 C1530.0 737.9 1542.9 742.1 1555.0 745.0 C1567.1 747.9 1584.2 749.2 1590.0 750.0" fill="none" stroke="#dadada" stroke-width="5"/>
<path d="M1550.0 727.5 C1550.0 724.6 1560.8 731.7 1567.5 735.0 C1574.2 738.3 1586.2 745.4 1590.0 747.5 C1590.0 748.3 1590.0 751.7 1590.0 752.5 C1586.2 752.5 1574.2 756.7 1567.5 752.5 C1560.8 748.3 1550.0 730.4 1550.0 727.5Z" fill="none" stroke="#dadada" stroke-width="5"/>
<path d="M1307.0 768.0 C1307.8 771.7 1310.7 782.2 1312.0 790.0 C1313.3 797.8 1314.1 802.5 1315.0 815.0 C1315.9 827.5 1317.5 850.5 1317.5 865.0 C1317.5 879.5 1315.4 895.8 1315.0 902.0" fill="none" stroke="#dadada" stroke-width="5"/>
<path d="M1283.0 664.0 L1287.0 674.0" fill="none" stroke="#dadada" stroke-width="4"/>
<path d="M1085.0 767.0 C1122.5 767.5 1234.2 770.0 1310.0 770.0 C1385.8 770.0 1501.7 767.5 1540.0 767.0" fill="none" stroke="#dadada" stroke-width="5"/>
<path d="M1066.0 745.0 C1066.2 748.3 1065.2 755.4 1067.5 765.0 C1069.8 774.6 1074.6 791.7 1080.0 802.5 C1085.4 813.3 1092.5 822.9 1100.0 830.0 C1107.5 837.1 1117.9 840.0 1125.0 845.0 C1132.1 850.0 1139.6 857.5 1142.5 860.0" fill="none" stroke="#dadada" stroke-width="5"/>
<path d="M1542.5 747.5 C1545.4 749.2 1555.8 752.5 1560.0 757.5 C1564.2 762.5 1565.4 767.9 1567.5 777.5 C1569.6 787.1 1571.7 802.5 1572.5 815.0 C1573.3 827.5 1573.3 840.0 1572.5 852.5 C1571.7 865.0 1569.2 881.8 1567.5 890.0 C1565.8 898.2 1563.3 900.0 1562.5 902.0" fill="none" stroke="#dadada" stroke-width="5"/>
<path d="M1100.0 791.2 L1145.0 791.2" stroke="#dadada" stroke-width="13" fill="none"/>
<path d="M1100.0 791.2 L1145.0 791.2" stroke="#fafafa" stroke-width="5" fill="none"/>
<path d="M1330.0 790.0 L1375.0 790.0" stroke="#dadada" stroke-width="13" fill="none"/>
<path d="M1330.0 790.0 L1375.0 790.0" stroke="#fafafa" stroke-width="5" fill="none"/>
<path d="M1828.3 795.0 C1821.6 792.5 1805.0 803.1 1800.0 806.7 C1795.0 810.3 1797.8 813.8 1798.3 816.7 C1798.8 819.6 1796.3 823.4 1803.3 824.2 C1810.2 825.0 1835.8 826.6 1840.0 821.7 C1844.2 816.8 1835.0 797.5 1828.3 795.0Z" fill="none" stroke="#dadada" stroke-width="5"/>
<path d="M1745.0 830.0 C1754.2 829.3 1783.6 827.1 1800.0 826.0 C1816.4 824.9 1836.1 823.8 1843.3 823.3" fill="none" stroke="#dadada" stroke-width="5"/>
<path d="M1166.0 906.5 C1205.0 905.7 1329.3 903.0 1400.0 901.5 C1470.7 900.0 1558.3 898.2 1590.0 897.5" fill="none" stroke="#dadada" stroke-width="5"/>
<path d="M1555.0 898.0 L1555.0 910.0" fill="none" stroke="#dadada" stroke-width="4"/>
<path d="M992.0 910.0 C992.8 905.8 993.7 893.3 996.7 885.0 C999.7 876.7 1003.6 867.2 1010.0 860.0 C1016.4 852.8 1025.3 846.2 1035.0 841.7 C1044.7 837.2 1057.2 834.4 1068.3 833.3 C1079.4 832.2 1092.0 833.0 1101.7 835.0 C1111.4 837.0 1118.4 840.0 1126.7 845.0 C1135.0 850.0 1145.6 858.3 1151.7 865.0 C1157.8 871.7 1160.9 876.2 1163.3 885.0 C1165.7 893.8 1165.5 912.5 1166.0 918.0 C1137.0 916.7 1021.0 911.3 992.0 910.0Z" fill="#f7f7f7"/>
<path d="M1592.0 906.0 C1592.2 905.0 1591.4 906.0 1593.3 900.0 C1595.2 894.0 1597.7 880.5 1603.3 870.0 C1608.9 859.5 1618.6 845.0 1626.7 836.7 C1634.8 828.4 1642.0 824.2 1651.7 820.0 C1661.4 815.8 1673.9 812.2 1685.0 811.7 C1696.1 811.2 1708.6 813.9 1718.3 816.7 C1728.0 819.5 1736.3 823.9 1743.3 828.3 C1750.2 832.7 1755.8 837.7 1760.0 843.3 C1764.2 848.9 1766.1 850.6 1768.3 861.7 C1770.5 872.8 1772.2 902.0 1773.0 910.0 C1742.8 909.3 1622.2 906.7 1592.0 906.0Z" fill="#f7f7f7"/>
<circle cx="1076.0" cy="912.0" r="70.0" fill="#f8f8f8" stroke="#dadada" stroke-width="5"/>
<circle cx="1076.0" cy="912.0" r="47.5" fill="#f8f8f8" stroke="#dadada" stroke-width="5"/>
<path d="M1049.0 884.5 A38.5 38.5 0 0 1 1088.9 875.7 Q1074.8 906.7 1049.0 884.5 Z" fill="#f8f8f8" stroke="#dadada" stroke-width="4" stroke-linejoin="round"/>
<path d="M1093.8 877.9 A38.5 38.5 0 0 1 1114.5 913.0 Q1080.7 909.3 1093.8 877.9 Z" fill="#f8f8f8" stroke="#dadada" stroke-width="4" stroke-linejoin="round"/>
<path d="M1114.0 918.4 A38.5 38.5 0 0 1 1086.9 948.9 Q1080.0 915.6 1114.0 918.4 Z" fill="#f8f8f8" stroke="#dadada" stroke-width="4" stroke-linejoin="round"/>
<path d="M1081.7 950.1 A38.5 38.5 0 0 1 1044.3 933.8 Q1073.8 917.0 1081.7 950.1 Z" fill="#f8f8f8" stroke="#dadada" stroke-width="4" stroke-linejoin="round"/>
<path d="M1041.5 929.2 A38.5 38.5 0 0 1 1045.5 888.6 Q1070.6 911.5 1041.5 929.2 Z" fill="#f8f8f8" stroke="#dadada" stroke-width="4" stroke-linejoin="round"/>
<circle cx="1684.0" cy="892.0" r="71.0" fill="#f8f8f8" stroke="#dadada" stroke-width="5"/>
<circle cx="1684.0" cy="892.0" r="48.5" fill="#f8f8f8" stroke="#dadada" stroke-width="5"/>
<path d="M1657.0 864.5 A38.5 38.5 0 0 1 1696.9 855.7 Q1682.8 886.7 1657.0 864.5 Z" fill="#f8f8f8" stroke="#dadada" stroke-width="4" stroke-linejoin="round"/>
<path d="M1701.8 857.9 A38.5 38.5 0 0 1 1722.5 893.0 Q1688.7 889.3 1701.8 857.9 Z" fill="#f8f8f8" stroke="#dadada" stroke-width="4" stroke-linejoin="round"/>
<path d="M1722.0 898.4 A38.5 38.5 0 0 1 1694.9 928.9 Q1688.0 895.6 1722.0 898.4 Z" fill="#f8f8f8" stroke="#dadada" stroke-width="4" stroke-linejoin="round"/>
<path d="M1689.7 930.1 A38.5 38.5 0 0 1 1652.3 913.8 Q1681.8 897.0 1689.7 930.1 Z" fill="#f8f8f8" stroke="#dadada" stroke-width="4" stroke-linejoin="round"/>
<path d="M1649.5 909.2 A38.5 38.5 0 0 1 1653.5 868.6 Q1678.6 891.5 1649.5 909.2 Z" fill="#f8f8f8" stroke="#dadada" stroke-width="4" stroke-linejoin="round"/>
<circle cx="1684.0" cy="892.0" r="10.5" fill="none" stroke="#dadada" stroke-width="4"/>
<path d="M992.0 910.0 C992.8 905.8 993.7 893.3 996.7 885.0 C999.7 876.7 1003.6 867.2 1010.0 860.0 C1016.4 852.8 1025.3 846.2 1035.0 841.7 C1044.7 837.2 1057.2 834.4 1068.3 833.3 C1079.4 832.2 1092.0 833.0 1101.7 835.0 C1111.4 837.0 1118.4 840.0 1126.7 845.0 C1135.0 850.0 1145.6 858.3 1151.7 865.0 C1157.8 871.7 1160.9 878.3 1163.3 885.0 C1165.7 891.7 1165.5 899.5 1166.0 905.0 C1166.5 910.5 1166.0 915.8 1166.0 918.0" fill="none" stroke="#dadada" stroke-width="5"/>
<path d="M1592.0 906.0 C1592.2 905.0 1591.4 906.0 1593.3 900.0 C1595.2 894.0 1597.7 880.5 1603.3 870.0 C1608.9 859.5 1618.6 845.0 1626.7 836.7 C1634.8 828.4 1642.0 824.2 1651.7 820.0 C1661.4 815.8 1673.9 812.2 1685.0 811.7 C1696.1 811.2 1708.6 813.9 1718.3 816.7 C1728.0 819.5 1736.3 823.9 1743.3 828.3 C1750.2 832.7 1755.8 837.7 1760.0 843.3 C1764.2 848.9 1766.1 850.6 1768.3 861.7 C1770.5 872.8 1772.2 902.0 1773.0 910.0" fill="none" stroke="#dadada" stroke-width="5"/>
<path d="M131.7 283.3 L211.7 253.3 L263.3 246.7" fill="none" stroke="#dc1f2d" stroke-width="1.4"/>
<path d="M135.4 290.0 L213.3 257.0 L258.3 250.0" fill="none" stroke="#dc1f2d" stroke-width="1.4"/>
<path d="M257.0 245.5 L265.5 244.5 L261.0 251.5Z" fill="#dc1f2d" stroke="#dc1f2d" stroke-width="0.6"/>
<path d="M112.6 290.0 L115.0 330.0" fill="none" stroke="#dc1f2d" stroke-width="1.6"/>
<path d="M119.0 299.0 L125.0 297.0 L122.7 325.0 L117.9 323.7Z" fill="#fff" stroke="#dc1f2d" stroke-width="1.6"/>
<path d="M111.9 314.0 L117.9 315.3 L117.3 374.3 L107.0 373.0Z" fill="#fff" stroke="#dc1f2d" stroke-width="1.6"/>
<path d="M111.9 314.0 L114.3 314.3 L113.6 373.6 L107.0 373.0Z" fill="#dc1f2d" stroke="#dc1f2d" stroke-width="0.6"/>
<path d="M119.1 352.6 L135.9 414.0" fill="none" stroke="#dc1f2d" stroke-width="4.9" stroke-linecap="butt"/>
<path d="M119.1 352.6 L135.9 414.0" fill="none" stroke="#fff" stroke-width="1.8" stroke-linecap="butt"/>
<path d="M115.5 340.6 C116.9 342.4 120.1 347.8 123.9 351.4 C127.7 355.0 135.9 360.4 138.3 362.2" fill="none" stroke="#dc1f2d" stroke-width="4.5" stroke-linecap="butt"/>
<path d="M115.5 340.6 C116.9 342.4 120.1 347.8 123.9 351.4 C127.7 355.0 135.9 360.4 138.3 362.2" fill="none" stroke="#fff" stroke-width="1.4" stroke-linecap="butt"/>
<path d="M136.0 366.8 L140.8 359.5" fill="none" stroke="#dc1f2d" stroke-width="4.3" stroke-linecap="butt"/>
<path d="M136.0 366.8 L140.8 359.5" fill="none" stroke="#fff" stroke-width="1.2" stroke-linecap="butt"/>
<path d="M123.9 296.0 L155.2 346.6" fill="none" stroke="#dc1f2d" stroke-width="5.9" stroke-linecap="butt"/>
<path d="M123.9 296.0 L155.2 346.6" fill="none" stroke="#fff" stroke-width="2.8" stroke-linecap="butt"/>
<path d="M149.2 342.5 L154.6 339.6 L156.8 349.5 L151.5 351.2Z" fill="#dc1f2d" stroke="#dc1f2d" stroke-width="0.6"/>
<path d="M128.0 292.7 C132.5 293.2 148.7 294.1 155.0 295.6 C161.3 297.1 163.5 299.5 166.0 301.6 C168.5 303.8 169.3 307.4 170.0 308.5" fill="none" stroke="#dc1f2d" stroke-width="6.9" stroke-linecap="butt"/>
<path d="M128.0 292.7 C132.5 293.2 148.7 294.1 155.0 295.6 C161.3 297.1 163.5 299.5 166.0 301.6 C168.5 303.8 169.3 307.4 170.0 308.5" fill="none" stroke="#fff" stroke-width="3.8" stroke-linecap="butt"/>
<path d="M162.0 312.5 L176.5 302.0" fill="none" stroke="#dc1f2d" stroke-width="4.5" stroke-linecap="butt"/>
<path d="M162.0 312.5 L176.5 302.0" fill="none" stroke="#fff" stroke-width="1.4" stroke-linecap="butt"/>
<path d="M85.4 275.6 L131.7 285.0" fill="none" stroke="#dc1f2d" stroke-width="4.5" stroke-linecap="butt"/>
<path d="M85.4 275.6 L131.7 285.0" fill="none" stroke="#fff" stroke-width="1.4" stroke-linecap="butt"/>
<path d="M54.3 282.3 L131.5 292.7" fill="none" stroke="#dc1f2d" stroke-width="5.1" stroke-linecap="butt"/>
<path d="M54.3 282.3 L131.5 292.7" fill="none" stroke="#fff" stroke-width="2.0" stroke-linecap="butt"/>
<path d="M54.3 278.3 L68.0 279.8 L68.0 285.2 L54.3 284.0Z" fill="#fff" stroke="#dc1f2d" stroke-width="1.6"/>
<path d="M72.8 272.2 L85.4 273.6 L85.4 278.4 L72.8 277.2Z" fill="#fff" stroke="#dc1f2d" stroke-width="1.6"/>
<path d="M99.9 282.0 L113.2 283.6 L113.2 290.3 L99.9 288.8Z" fill="#fff" stroke="#dc1f2d" stroke-width="1.6"/>
<path d="M116.1 281.2 L128.7 282.8 L128.7 288.2 L116.1 286.8Z" fill="#fff" stroke="#dc1f2d" stroke-width="1.6"/>
<circle cx="62.1" cy="271.5" r="7.3" fill="#fff" stroke="#dc1f2d" stroke-width="1.9"/>
<circle cx="62.1" cy="271.1" r="4.8" fill="#fff" stroke="#dc1f2d" stroke-width="1.6"/>
<circle cx="79.9" cy="266.3" r="7.0" fill="#fff" stroke="#dc1f2d" stroke-width="1.9"/>
<circle cx="79.9" cy="265.9" r="4.5" fill="#fff" stroke="#dc1f2d" stroke-width="1.6"/>
<circle cx="107.3" cy="279.6" r="7.0" fill="#fff" stroke="#dc1f2d" stroke-width="1.9"/>
<circle cx="107.3" cy="279.2" r="4.2" fill="#fff" stroke="#dc1f2d" stroke-width="1.6"/>
<circle cx="122.8" cy="274.4" r="6.8" fill="#fff" stroke="#dc1f2d" stroke-width="1.9"/>
<circle cx="122.8" cy="274.0" r="4.2" fill="#fff" stroke="#dc1f2d" stroke-width="1.6"/>
<path d="M468.3 496.3 L545.0 475.0 L598.5 456.5" fill="none" stroke="#dc1f2d" stroke-width="1.4"/>
<path d="M469.3 499.6 L545.0 478.7 L599.0 460.0" fill="none" stroke="#dc1f2d" stroke-width="1.4"/>
<path d="M471.1 503.7 L545.0 482.4 L598.5 463.5" fill="none" stroke="#dc1f2d" stroke-width="1.4"/>
<path d="M596.5 456.0 L602.5 454.5 L601.5 464.0 L597.0 463.5Z" fill="#dc1f2d" stroke="#dc1f2d" stroke-width="0.6"/>
<path d="M458.1 512.0 L461.5 540.0" fill="none" stroke="#dc1f2d" stroke-width="1.6"/>
<path d="M463.7 517.6 L472.0 513.9 L467.4 545.4 L462.8 544.4Z" fill="#fff" stroke="#dc1f2d" stroke-width="1.6"/>
<path d="M456.3 540.0 L467.5 540.5 L466.5 598.6 L455.3 594.0Z" fill="#fff" stroke="#dc1f2d" stroke-width="1.6"/>
<path d="M456.3 540.0 L461.9 540.2 L461.2 598.0 L455.3 594.0Z" fill="#dc1f2d" stroke="#dc1f2d" stroke-width="0.6"/>
<path d="M467.5 581.0 L495.0 641.9" fill="none" stroke="#dc1f2d" stroke-width="4.9" stroke-linecap="butt"/>
<path d="M467.5 581.0 L495.0 641.9" fill="none" stroke="#fff" stroke-width="1.8" stroke-linecap="butt"/>
<path d="M467.5 565.5 C469.6 566.8 475.8 570.5 480.0 573.0 C484.2 575.5 490.8 579.4 493.0 580.7" fill="none" stroke="#dc1f2d" stroke-width="4.5" stroke-linecap="butt"/>
<path d="M467.5 565.5 C469.6 566.8 475.8 570.5 480.0 573.0 C484.2 575.5 490.8 579.4 493.0 580.7" fill="none" stroke="#fff" stroke-width="1.4" stroke-linecap="butt"/>
<path d="M492.4 587.8 L492.4 578.2" fill="none" stroke="#dc1f2d" stroke-width="5.3" stroke-linecap="butt"/>
<path d="M492.4 587.8 L492.4 578.2" fill="none" stroke="#fff" stroke-width="2.2" stroke-linecap="butt"/>
<path d="M465.6 505.6 C469.7 509.2 481.8 519.8 490.0 527.0 C498.2 534.2 506.6 543.0 514.6 549.1 C522.6 555.2 533.9 561.4 537.8 563.9" fill="none" stroke="#dc1f2d" stroke-width="5.5" stroke-linecap="butt"/>
<path d="M465.6 505.6 C469.7 509.2 481.8 519.8 490.0 527.0 C498.2 534.2 506.6 543.0 514.6 549.1 C522.6 555.2 533.9 561.4 537.8 563.9" fill="none" stroke="#fff" stroke-width="2.4" stroke-linecap="butt"/>
<path d="M536.9 560.2 L545.0 563.0 L544.0 571.0 L536.0 568.5Z" fill="#dc1f2d" stroke="#dc1f2d" stroke-width="0.6"/>
<path d="M468.3 508.0 C472.9 507.8 488.7 506.5 496.1 507.0 C503.5 507.5 508.6 509.1 512.6 511.0 C516.6 512.9 518.8 517.2 520.0 518.5" fill="none" stroke="#dc1f2d" stroke-width="7.1" stroke-linecap="butt"/>
<path d="M468.3 508.0 C472.9 507.8 488.7 506.5 496.1 507.0 C503.5 507.5 508.6 509.1 512.6 511.0 C516.6 512.9 518.8 517.2 520.0 518.5" fill="none" stroke="#fff" stroke-width="4.0" stroke-linecap="butt"/>
<path d="M516.2 527.8 L526.2 511.8" fill="none" stroke="#dc1f2d" stroke-width="4.7" stroke-linecap="butt"/>
<path d="M516.2 527.8 L526.2 511.8" fill="none" stroke="#fff" stroke-width="1.6" stroke-linecap="butt"/>
<path d="M419.7 496.8 L442.4 498.4" fill="none" stroke="#dc1f2d" stroke-width="5.3" stroke-linecap="butt"/>
<path d="M419.7 496.8 L442.4 498.4" fill="none" stroke="#fff" stroke-width="2.2" stroke-linecap="butt"/>
<path d="M404.9 506.0 L468.3 509.5" fill="none" stroke="#dc1f2d" stroke-width="7.3" stroke-linecap="butt"/>
<path d="M404.9 506.0 L468.3 509.5" fill="none" stroke="#fff" stroke-width="4.2" stroke-linecap="butt"/>
<path d="M388.7 501.9 L404.9 502.5 L404.9 509.9 L388.7 509.5Z" fill="#fff" stroke="#dc1f2d" stroke-width="1.6"/>
<path d="M407.2 491.7 L419.7 492.3 L419.7 499.2 L407.2 498.8Z" fill="#fff" stroke="#dc1f2d" stroke-width="1.6"/>
<path d="M442.4 502.8 L455.4 503.4 L455.4 511.8 L442.4 511.2Z" fill="#fff" stroke="#dc1f2d" stroke-width="1.6"/>
<path d="M456.3 496.3 L467.4 496.8 L467.4 503.8 L456.3 503.4Z" fill="#fff" stroke="#dc1f2d" stroke-width="1.6"/>
<circle cx="398.0" cy="495.4" r="8.8" fill="#fff" stroke="#dc1f2d" stroke-width="1.9"/>
<circle cx="398.0" cy="495.0" r="5.8" fill="#fff" stroke="#dc1f2d" stroke-width="1.6"/>
<circle cx="413.7" cy="486.6" r="7.4" fill="#fff" stroke="#dc1f2d" stroke-width="1.9"/>
<circle cx="413.7" cy="486.2" r="4.7" fill="#fff" stroke="#dc1f2d" stroke-width="1.6"/>
<circle cx="448.0" cy="497.2" r="7.0" fill="#fff" stroke="#dc1f2d" stroke-width="1.9"/>
<circle cx="448.0" cy="496.8" r="4.8" fill="#fff" stroke="#dc1f2d" stroke-width="1.6"/>
<circle cx="461.9" cy="490.3" r="7.8" fill="#fff" stroke="#dc1f2d" stroke-width="1.9"/>
<circle cx="461.9" cy="489.9" r="5.0" fill="#fff" stroke="#dc1f2d" stroke-width="1.6"/>
<path d="M872.5 709.0 L881.5 707.0 L889.0 773.0 L880.0 784.0Z" fill="#fff" stroke="#dc1f2d" stroke-width="1.6"/>
<path d="M877.0 712.0 L883.5 772.0" fill="none" stroke="#dc1f2d" stroke-width="1.6"/>
<path d="M869.8 732.0 L875.5 734.0 L859.5 797.0 L853.5 795.0Z" fill="#fff" stroke="#dc1f2d" stroke-width="1.6"/>
<path d="M869.8 732.0 L872.3 733.0 L856.5 796.2 L853.5 795.0Z" fill="#dc1f2d" stroke="#dc1f2d" stroke-width="0.6"/>
<path d="M869.0 772.0 L873.5 818.0" fill="none" stroke="#dc1f2d" stroke-width="4.7" stroke-linecap="butt"/>
<path d="M869.0 772.0 L873.5 818.0" fill="none" stroke="#fff" stroke-width="1.6" stroke-linecap="butt"/>
<path d="M866.0 760.0 C867.7 762.0 873.3 767.7 876.0 772.0 C878.7 776.3 881.0 783.7 882.0 786.0" fill="none" stroke="#dc1f2d" stroke-width="4.5" stroke-linecap="butt"/>
<path d="M866.0 760.0 C867.7 762.0 873.3 767.7 876.0 772.0 C878.7 776.3 881.0 783.7 882.0 786.0" fill="none" stroke="#fff" stroke-width="1.4" stroke-linecap="butt"/>
<path d="M894.5 710.0 L907.5 743.2" fill="none" stroke="#dc1f2d" stroke-width="5.3" stroke-linecap="butt"/>
<path d="M894.5 710.0 L907.5 743.2" fill="none" stroke="#fff" stroke-width="2.2" stroke-linecap="butt"/>
<path d="M906.0 712.0 C908.3 713.7 916.4 718.8 920.0 722.0 C923.6 725.2 925.7 727.8 927.5 731.0 C929.3 734.2 930.2 739.5 930.8 741.2" fill="none" stroke="#dc1f2d" stroke-width="5.7" stroke-linecap="butt"/>
<path d="M906.0 712.0 C908.3 713.7 916.4 718.8 920.0 722.0 C923.6 725.2 925.7 727.8 927.5 731.0 C929.3 734.2 930.2 739.5 930.8 741.2" fill="none" stroke="#fff" stroke-width="2.6" stroke-linecap="butt"/>
<path d="M919.9 744.5 L933.7 741.0" fill="none" stroke="#dc1f2d" stroke-width="4.5" stroke-linecap="butt"/>
<path d="M919.9 744.5 L933.7 741.0" fill="none" stroke="#fff" stroke-width="1.4" stroke-linecap="butt"/>
<path d="M840.7 682.8 L867.4 691.7 L895.0 701.0" fill="none" stroke="#dc1f2d" stroke-width="4.9" stroke-linecap="butt"/>
<path d="M840.7 682.8 L867.4 691.7 L895.0 701.0" fill="none" stroke="#fff" stroke-width="1.8" stroke-linecap="butt"/>
<path d="M831.8 694.7 L994.6 731.9" fill="none" stroke="#dc1f2d" stroke-width="5.9" stroke-linecap="butt"/>
<path d="M831.8 694.7 L994.6 731.9" fill="none" stroke="#fff" stroke-width="2.8" stroke-linecap="butt"/>
<path d="M880.0 699.0 L993.5 727.0" fill="none" stroke="#dc1f2d" stroke-width="4.9" stroke-linecap="butt"/>
<path d="M880.0 699.0 L993.5 727.0" fill="none" stroke="#fff" stroke-width="1.8" stroke-linecap="butt"/>
<path d="M816.0 690.2 L831.8 694.7" fill="none" stroke="#dc1f2d" stroke-width="6.7" stroke-linecap="butt"/>
<path d="M816.0 690.2 L831.8 694.7" fill="none" stroke="#fff" stroke-width="3.6" stroke-linecap="butt"/>
<path d="M990.0 726.0 L997.0 723.5 L999.5 730.0 L994.0 739.5 L988.5 738.0Z" fill="#dc1f2d" stroke="#dc1f2d" stroke-width="0.6"/>
<path d="M815.8 687.8 L830.8 693.7 L829.8 697.9 L815.3 692.7Z" fill="#fff" stroke="#dc1f2d" stroke-width="1.6"/>
<path d="M840.0 679.0 L852.5 683.5 L851.5 687.5 L839.0 683.0Z" fill="#fff" stroke="#dc1f2d" stroke-width="1.6"/>
<path d="M865.5 700.0 L879.0 704.5 L878.0 708.5 L864.5 704.0Z" fill="#fff" stroke="#dc1f2d" stroke-width="1.6"/>
<path d="M885.0 694.5 L898.5 699.0 L897.5 703.0 L884.0 698.5Z" fill="#fff" stroke="#dc1f2d" stroke-width="1.6"/>
<circle cx="826.8" cy="681.3" r="8.6" fill="#fff" stroke="#dc1f2d" stroke-width="1.9"/>
<circle cx="826.8" cy="680.9" r="5.3" fill="#fff" stroke="#dc1f2d" stroke-width="1.6"/>
<circle cx="850.1" cy="675.9" r="7.8" fill="#fff" stroke="#dc1f2d" stroke-width="1.9"/>
<circle cx="850.1" cy="675.5" r="5.0" fill="#fff" stroke="#dc1f2d" stroke-width="1.6"/>
<circle cx="872.4" cy="697.7" r="7.8" fill="#fff" stroke="#dc1f2d" stroke-width="1.9"/>
<circle cx="872.4" cy="697.3" r="5.0" fill="#fff" stroke="#dc1f2d" stroke-width="1.6"/>
<circle cx="892.2" cy="692.7" r="8.6" fill="#fff" stroke="#dc1f2d" stroke-width="1.9"/>
<circle cx="892.2" cy="692.3" r="5.3" fill="#fff" stroke="#dc1f2d" stroke-width="1.6"/>
</g>
<!-- TEXT -->
<g fill="#231f20" fill-rule="evenodd"><path d="M1236.9 67.8 L1219.1 66.4 Q1205.1 66.4 1205.1 80.4 L1205.1 99.1 Q1205.1 113.1 1219.1 113.1 L1236.9 111.7 L1235.3 104.0 L1221.6 104.0 Q1215.9 104.0 1215.9 98.3 L1215.9 81.2 Q1215.9 75.5 1221.6 75.5 L1235.3 75.5 Z"/><path d="M1256.5 66.4 L1267.4 66.4 Q1280.9 66.4 1280.9 79.9 L1280.9 99.60000000000001 Q1280.9 113.10000000000001 1267.4 113.10000000000001 L1256.5 113.10000000000001 Q1243 113.10000000000001 1243 99.60000000000001 L1243 79.9 Q1243 66.4 1256.5 66.4 Z M1260.7 74.9 L1263.2 74.9 Q1269.7 74.9 1269.7 81.4 L1269.7 98.5 Q1269.7 105.0 1263.2 105.0 L1260.7 105.0 Q1254.2 105.0 1254.2 98.5 L1254.2 81.4 Q1254.2 74.9 1260.7 74.9 Z"/><path d="M1289.1 112.8 L1291.1 67.1 L1301.9 67.1 L1314.1 95.9 L1326.3 67.1 L1337.1 67.1 L1339.2 112.8 L1329 112.8 L1327.7 84.3 L1319.5 106.7 L1309.4 106.7 L1299.9 86.4 L1299.6 112.8 Z"/><path d="M1349 112.8 L1349 67.1 L1373 67.1 Q1385.9 67.1 1385.9 80 L1385.9 85.7 Q1385.9 98.6 1373 98.6 L1359.8 98.6 L1359.8 112.8 Z M1359.8 75.9 L1369.5 75.9 Q1375 75.9 1375 81.4 L1375 84.9 Q1375 90.4 1369.5 90.4 L1359.8 90.4 Z"/><path d="M1389.1 112.8 L1404.6 67.1 L1418.5 67.1 L1433.7 112.8 L1422.2 112.8 L1419.6 104 L1402.8 104 L1400.2 112.8 Z M1411.2 76.6 L1416.8 95.5 L1405.6 95.5 Z"/><path d="M1470.6 67.8 L1453.0 66.4 Q1439.2 66.4 1439.2 80.4 L1439.2 99.1 Q1439.2 113.1 1453.0 113.1 L1470.6 111.7 L1469.0 104.0 L1455.5 104.0 Q1449.9 104.0 1449.9 98.3 L1449.9 81.2 Q1449.9 75.5 1455.5 75.5 L1469.0 75.5 Z"/><path d="M1475.4 67.1 L1512.6 67.1 L1512.6 75.9 L1499.4 75.9 L1499.4 112.8 L1488.2 112.8 L1488.2 75.9 L1475.4 75.9 Z"/><path d="M1533.9 112.8 L1533.9 67.1 L1558.5 67.1 Q1570.8 67.1 1570.8 79.4 L1570.8 85.5 Q1570.8 94.5 1563.5 96.8 L1575.5 112.8 L1563.3 112.8 L1551.8 97.9 L1544.7 97.9 L1544.7 112.8 Z M1544.7 75.9 L1555 75.9 Q1560 75.9 1560 80.9 L1560 85.1 Q1560 90.1 1555 90.1 L1544.7 90.1 Z"/><path d="M1578.2 112.8 L1592.8 67.1 L1608 67.1 L1622.9 112.8 L1611.4 112.8 L1608.4 103.3 L1591.8 103.3 L1589.2 112.8 Z M1600.4 76.6 L1606 95.5 L1594.8 95.5 Z"/><path d="M1659.9 67.8 L1642.1 66.4 Q1628.1 66.4 1628.1 80.4 L1628.1 99.1 Q1628.1 113.1 1642.1 113.1 L1659.9 111.7 L1658.3 104.0 L1644.6 104.0 Q1638.9 104.0 1638.9 98.3 L1638.9 81.2 Q1638.9 75.5 1644.6 75.5 L1658.3 75.5 Z"/><path d="M1668 67.1 L1678.9 67.1 L1678.9 112.8 L1668 112.8 Z M1694.4 67.1 L1705.6 67.1 L1691.7 89.1 L1706.6 112.8 L1694.8 112.8 L1680.9 89.1 Z"/></g>
<rect x="1093" y="134" width="723" height="3" fill="#d0142a"/>
<g><text transform="translate(1120.33 189) scale(0.884 1)" font-size="36" fill="#262626">F</text><text transform="translate(1146.30 189) scale(1.000 1)" font-size="36" fill="#262626">I</text><text transform="translate(1166.40 189) scale(0.805 1)" font-size="36" fill="#262626">T</text><text transform="translate(1190.33 189) scale(0.768 1)" font-size="36" fill="#262626">S</text><text transform="translate(1229.20 189) scale(1.033 1)" font-size="36" fill="#262626">A</text><text transform="translate(1273.50 189) scale(1.121 1)" font-size="36" fill="#262626">W</text><text transform="translate(1318.95 189) scale(1.000 1)" font-size="36" fill="#262626">I</text><text transform="translate(1334.25 189) scale(1.074 1)" font-size="36" fill="#262626">D</text><text transform="translate(1371.10 189) scale(0.800 1)" font-size="36" fill="#262626">E</text><text transform="translate(1412.67 189) scale(0.813 1)" font-size="36" fill="#262626">R</text><text transform="translate(1440.00 189) scale(1.042 1)" font-size="36" fill="#262626">A</text><text transform="translate(1470.22 189) scale(1.091 1)" font-size="36" fill="#262626">N</text><text transform="translate(1506.50 189) scale(1.000 1)" font-size="36" fill="#262626">G</text><text transform="translate(1540.12 189) scale(0.790 1)" font-size="36" fill="#262626">E</text><text transform="translate(1581.33 189) scale(1.065 1)" font-size="36" fill="#262626">O</text><text transform="translate(1621.53 189) scale(0.737 1)" font-size="36" fill="#262626">F</text><text transform="translate(1658.14 189) scale(0.963 1)" font-size="36" fill="#262626">C</text><text transform="translate(1687.80 189) scale(1.079 1)" font-size="36" fill="#262626">A</text><text transform="translate(1721.23 189) scale(0.883 1)" font-size="36" fill="#262626">R</text><text transform="translate(1749.80 189) scale(0.800 1)" font-size="36" fill="#262626">S</text><text transform="translate(1776.50 189) scale(0.864 1)" font-size="36" fill="#262626">*</text></g>
<g font-size="28.8" font-style="italic" fill="#dc1c2c" stroke="#dc1c2c" stroke-width="1.0"><text transform="translate(804.00 288.7) scale(0.895 1)">H</text><text transform="translate(825.03 288.7) scale(0.865 1)">A</text><text transform="translate(841.62 288.7) scale(0.939 1)">T</text><text transform="translate(860.56 288.7) scale(0.840 1)">C</text><text transform="translate(878.20 288.7) scale(0.943 1)">H</text><text transform="translate(897.00 288.7) scale(0.989 1)">B</text><text transform="translate(918.48 288.7) scale(0.840 1)">A</text><text transform="translate(936.81 288.7) scale(0.790 1)">C</text><text transform="translate(954.40 288.7) scale(0.895 1)">K</text><text transform="translate(971.00 288.7) scale(0.711 1)">S</text></g>
<g font-size="28.8" font-style="italic" fill="#dc1c2c" stroke="#dc1c2c" stroke-width="1.0"><text transform="translate(1200.90 495.8) scale(0.800 1)">S</text><text transform="translate(1218.49 495.8) scale(0.710 1)">Q</text><text transform="translate(1235.79 495.8) scale(0.905 1)">U</text><text transform="translate(1256.95 495.8) scale(0.875 1)">A</text><text transform="translate(1275.90 495.8) scale(0.895 1)">R</text><text transform="translate(1295.80 495.8) scale(0.740 1)">E</text><text transform="translate(1312.20 495.8) scale(0.905 1)">B</text><text transform="translate(1331.88 495.8) scale(0.840 1)">A</text><text transform="translate(1351.00 495.8) scale(0.705 1)">C</text><text transform="translate(1367.00 495.8) scale(0.910 1)">K</text><text transform="translate(1386.10 495.8) scale(0.758 1)">S</text><text transform="translate(1403.13 495.8) scale(1.115 1)">/</text><text transform="translate(1416.20 495.8) scale(0.758 1)">S</text><text transform="translate(1431.56 495.8) scale(0.921 1)">U</text><text transform="translate(1451.06 495.8) scale(0.920 1)">V</text><text transform="translate(1470.50 495.8) scale(0.758 1)">S</text></g>
<g font-size="28.8" font-style="italic" fill="#dc1c2c" stroke="#dc1c2c" stroke-width="1.0"><text transform="translate(1563.10 696.7) scale(0.774 1)">S</text><text transform="translate(1579.10 696.7) scale(0.780 1)">E</text><text transform="translate(1596.00 696.7) scale(0.845 1)">D</text><text transform="translate(1615.69 696.7) scale(0.895 1)">A</text><text transform="translate(1635.10 696.7) scale(0.929 1)">N</text><text transform="translate(1656.60 696.7) scale(0.753 1)">S</text></g>
<g font-size="24.4" fill="#1e1e1e"><text transform="translate(775.90 1049.0) scale(0.866 1)" font-size="20">*</text><text transform="translate(785.02 1050.7) scale(0.940 1)">Please</text><text transform="translate(861.34 1050.7) scale(1.057 1)">confirm</text><text transform="translate(952.30 1050.7) scale(0.997 1)">specific</text><text transform="translate(1041.70 1050.7) scale(1.084 1)">fit</text><text transform="translate(1072.07 1050.7) scale(1.065 1)">with</text><text transform="translate(1123.70 1050.7) scale(1.039 1)">Allen</text><text transform="translate(1186.15 1050.7) scale(1.027 1)">Fit</text><text transform="translate(1220.69 1050.7) scale(1.006 1)">List</text></g>
<!-- LOGO -->
<g id="logo">
<rect x="47" y="1001" width="45.5" height="45" fill="#e31e2d"/>
<path d="M69.2 1008.7 L89.2 1038.3 L69.2 1026 L50 1038.3 Z" fill="#fff"/>
<path d="M69.2 1009 L69.2 1025" stroke="#e31e2d" stroke-width="0.8"/>
<path d="M58 1033 L69 1028.5 L82 1034" stroke="#fff" stroke-width="0.8" fill="none"/>
<circle cx="85.5" cy="1043" r="1.2" fill="#f4a0a6"/>
<g fill="#111">
<path fill-rule="evenodd" d="M94.5 1040 L112.8 1009 L125.9 1009 L148.7 1040 L137.9 1040 L133.2 1034.1 L110.3 1034.1 L105.6 1040 Z M114.8 1025.8 L128.6 1025.8 L122 1016.2 L121.2 1016.2 Z"/>
<path d="M148.7 1009 L156.5 1009 L156.5 1033.5 L178.5 1033.5 L183.4 1040 L148.7 1040 Z"/>
<path d="M184.6 1009 L191.8 1009 L191.8 1033.5 L213.5 1033.5 L218.2 1040 L184.6 1040 Z"/>
<path d="M219.4 1009 L260 1009 L260 1015.6 L226.6 1015.6 L226.6 1021.6 L259 1021.6 L259 1028.7 L226.6 1028.7 L226.6 1032.3 L260 1032.3 L260 1040 L219.4 1040 Z"/>
<path d="M262.5 1009 L272 1009 L299.6 1030.5 L299.6 1009 L306.8 1009 L306.8 1040 L297.3 1040 L269.7 1018.5 L269.7 1040 L262.5 1040 Z"/>
</g>
<circle cx="309.8" cy="1038" r="1.4" fill="#999"/>
</g>
</svg>
</body></html>
